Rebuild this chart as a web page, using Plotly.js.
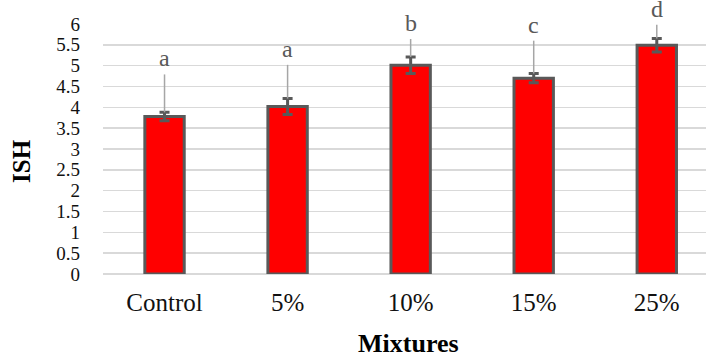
<!DOCTYPE html>
<html>
<head>
<meta charset="utf-8">
<script src="https://cdn.plot.ly/plotly-3.0.1.min.js"></script>
<style>html,body{margin:0;padding:0;background:#fff;}#chart{width:706px;height:356px;}</style>
</head>
<body>
<div id="chart"></div>
<script>
const categories = ['Control', '5%', '10%', '15%', '25%'];
const means = [3.78, 4.02, 5.01, 4.70, 5.49];
const errors = [0.10, 0.19, 0.20, 0.11, 0.16];
const leaderTops = [4.79, 5.02, 5.64, 5.60, 5.98];
const letters = ['a', 'a', 'b', 'c', 'd'];
const yTicks = [0, 0.5, 1, 1.5, 2, 2.5, 3, 3.5, 4, 4.5, 5, 5.5, 6];

const serif = 'Liberation Serif, Times New Roman, serif';

const barTrace = {
  type: 'bar',
  x: categories,
  y: means,
  width: 0.32,
  marker: { color: '#ff0000', line: { color: '#595959', width: 3 } },
  error_y: { type: 'data', array: errors, visible: true, color: '#595959', thickness: 3, width: 5 },
  hoverinfo: 'skip'
};

const lx = [], ly = [];
categories.forEach((c, i) => {
  lx.push(c, c, null);
  ly.push(means[i] + errors[i], leaderTops[i], null);
});
const leaderTrace = {
  type: 'scatter', mode: 'lines', x: lx, y: ly,
  line: { color: '#a6a6a6', width: 1.5 }, hoverinfo: 'skip', cliponaxis: false
};

const annotations = categories.map((c, i) => ({
  x: c, y: leaderTops[i], xref: 'x', yref: 'y',
  text: letters[i], showarrow: false, yanchor: 'bottom', yshift: 1,
  font: { family: serif, size: 24, color: '#595959' }
}));
annotations.push({
  xref: 'paper', yref: 'paper', x: -0.136, y: 0.452, textangle: -90,
  text: '<b>ISH</b>', showarrow: false, xanchor: 'center', yanchor: 'middle',
  font: { family: serif, size: 25, color: '#000' }
});
annotations.push({
  xref: 'paper', yref: 'paper', x: 0.507, y: -0.278,
  text: '<b>Mixtures</b>', showarrow: false, xanchor: 'center', yanchor: 'middle',
  font: { family: serif, size: 26, color: '#000' }
});

const layout = {
  width: 706, height: 356,
  margin: { l: 103, r: 0, t: 24, b: 82, pad: 0 },
  paper_bgcolor: '#fff', plot_bgcolor: '#fff',
  showlegend: false,
  xaxis: {
    type: 'category', range: [-0.5, 4.4],
    showgrid: false, zeroline: false, showline: false,
    ticks: '', ticklabelstandoff: 11,
    tickfont: { family: serif, size: 25, color: '#111' }
  },
  yaxis: {
    range: [0, 6], tickvals: yTicks, ticktext: yTicks.map(String),
    showgrid: true, gridcolor: '#d9d9d9', gridwidth: 1.5,
    zeroline: true, zerolinecolor: '#d9d9d9', zerolinewidth: 1.5,
    showline: false, ticks: '', ticklabelstandoff: 22,
    tickfont: { family: serif, size: 19, color: '#111' }
  },
  annotations: annotations
};

Plotly.newPlot('chart', [barTrace, leaderTrace], layout, { staticPlot: true, displayModeBar: false });
</script>
</body>
</html>
